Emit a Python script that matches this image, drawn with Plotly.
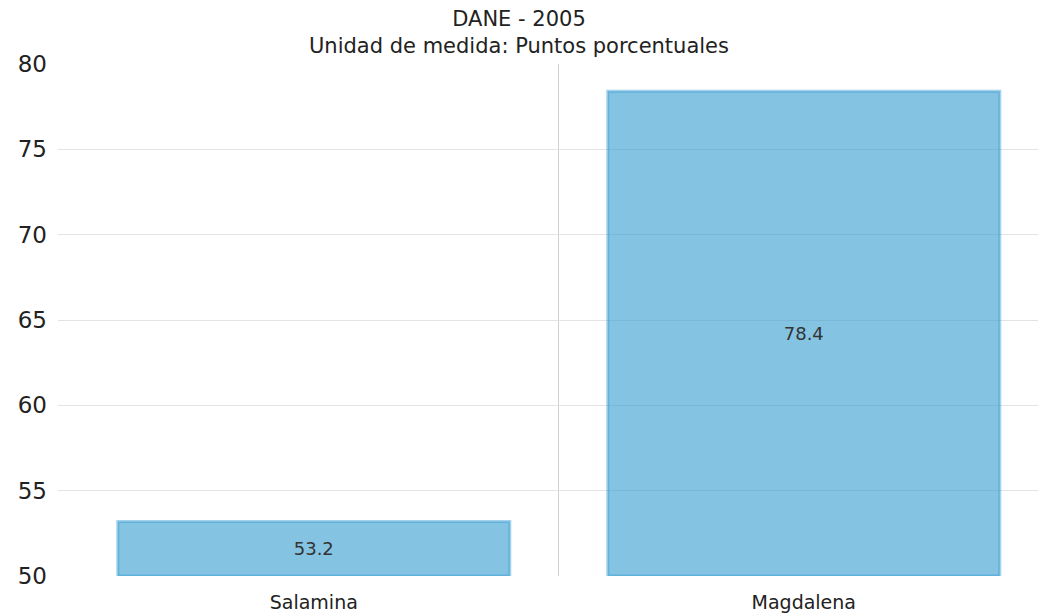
import plotly.graph_objects as go

categories = ['Salamina', 'Magdalena']
values = [53.2, 78.4]
y_min = 50
y_ticks = [50, 55, 60, 65, 70, 75, 80]

FONT = 'DejaVu Sans'

# bars start at the bottom of the axis so the labels sit in the visible middle
fig = go.Figure()
fig.add_bar(x=[0, 1],
            y=[v - y_min for v in values],
            base=y_min,
            width=0.8,
            text=[f'{v:.1f}' for v in values],
            textposition='inside',
            insidetextanchor='middle',
            textfont=dict(family=FONT, size=18, color='#333333'),
            marker=dict(color='rgba(52,155,208,0.6)',
                        line=dict(color='rgba(52,155,208,0.45)', width=3)))

fig.layout.title = dict(text='DANE - 2005<br>Unidad de medida: Puntos porcentuales',
                        x=0.5, xanchor='center', y=0.958, yanchor='top',
                        font=dict(family=FONT, size=21, color='#222222'))
fig.layout.width = 1038
fig.layout.height = 614
fig.layout.margin = dict(l=58, r=0, t=64, b=38)
fig.layout.plot_bgcolor = 'white'
fig.layout.paper_bgcolor = 'white'
fig.layout.showlegend = False

fig.layout.xaxis = dict(range=[-0.522, 1.478],
                        tickmode='array', tickvals=[0, 1], ticktext=categories,
                        showgrid=False, zeroline=False, ticklabelstandoff=13,
                        tickfont=dict(family=FONT, size=19, color='#222222'),
                        minor=dict(tickmode='array', tickvals=[0.5], showgrid=True,
                                   gridcolor='#d0d0d0', gridwidth=1, ticks=''))
fig.layout.yaxis = dict(range=[50, 80], tickmode='array', tickvals=y_ticks,
                        showgrid=True, gridcolor='#e3e3e3', gridwidth=1,
                        zeroline=False, ticks='', ticklabelstandoff=10,
                        tickfont=dict(family=FONT, size=23, color='#222222'))

fig.write_html('out.html', config={'displayModeBar': False},
               post_script="document.body.style.margin='0';")
